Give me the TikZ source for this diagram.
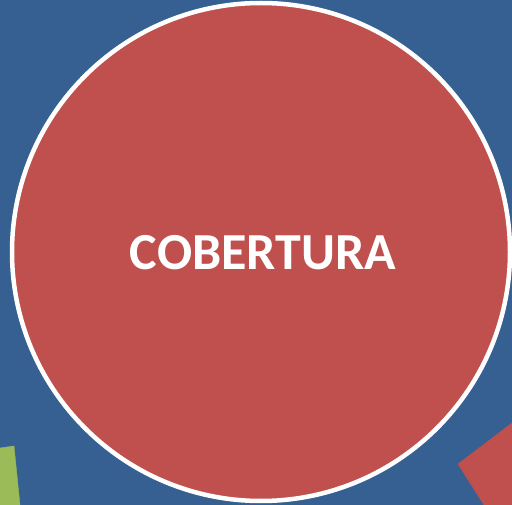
\documentclass[tikz,border=0pt]{standalone}
\usepackage{fontspec}
\setmainfont{Carlito}
\definecolor{fondo}{RGB}{54,96,146}
\definecolor{rojo}{RGB}{192,80,77}
\definecolor{verde}{RGB}{155,187,89}
\begin{document}
\begin{tikzpicture}[x=1pt,y=-1pt]
    \tikzstyle{disco}=[circle,fill=rojo,draw=white,line width=4.5pt,minimum size=498pt,inner sep=0pt]
    \tikzstyle{rotulo}=[text=white,font=\bfseries\fontsize{52}{60}\selectfont]
    \fill[fondo] (0,0) rectangle (512,505);
    \useasboundingbox (0,0) rectangle (512,505);

    \begin{scope}
        \clip (0,0) rectangle (512,505);
        \filldraw[draw=verde, fill=verde] (0,448) -- (14,446) -- (20,505) -- (0,505) -- cycle;
        \filldraw[draw=rojo, fill=rojo] (458,464) -- (512,423) -- (512,505) -- (484,505) -- cycle;
        \node[disco] (cobertura) at (261,252) {};
    \end{scope}

    \node[rotulo] (titulo) at (263,253) {COBERTURA};

\end{tikzpicture}
\end{document}
